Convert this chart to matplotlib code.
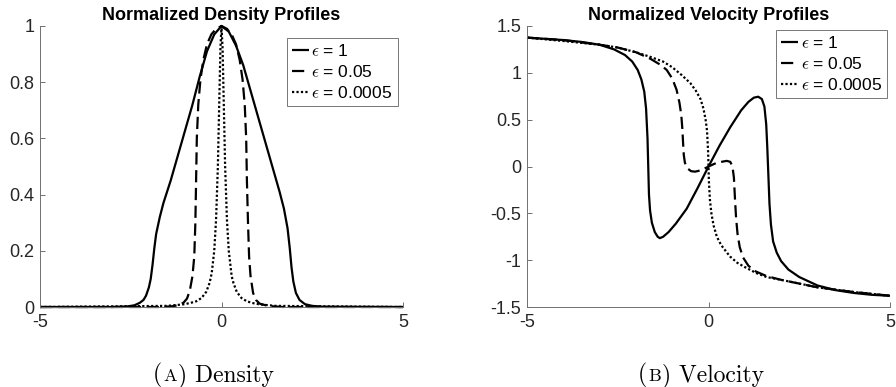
import matplotlib
matplotlib.use("Agg")
import matplotlib.pyplot as plt

plt.rcParams['axes.unicode_minus'] = False
plt.rcParams['mathtext.fontset'] = 'cm'
plt.rcParams['font.family'] = ['Liberation Sans', 'DejaVu Sans']

# ---------------- data ----------------
titles = ["Normalized Density Profiles", "Normalized Velocity Profiles"]
captions = [("(", "A", ") Density"), ("(", "B", ") Velocity")]
labels = [r"$\epsilon$ = 1", r"$\epsilon$ = 0.05", r"$\epsilon$ = 0.0005"]

x_ticks = [-5, 0, 5]
rho_ticks = [0, 0.2, 0.4, 0.6, 0.8, 1]
rho_tick_labels = ["0", "0.2", "0.4", "0.6", "0.8", "1"]
u_ticks = [-1.5, -1, -0.5, 0, 0.5, 1, 1.5]
u_tick_labels = ["-1.5", "-1", "-0.5", "0", "0.5", "1", "1.5"]

# density, eps = 1
rho1_x = [-5, -3, -2.6, -2.4, -2.25, -2.15, -2.08, -2.0, -1.95, -1.9, -1.85, -1.8, -1.7, -1.6,
          -1.4, -1.2, -1.0, -0.8, -0.6, -0.4, -0.2, 0, 0.2, 0.4, 0.6, 0.8, 1.0, 1.2, 1.4,
          1.6, 1.72, 1.82, 1.88, 1.93, 1.98, 2.05, 2.15, 2.3, 2.5, 2.8, 5]
rho1_y = [0, 0, 0.002, 0.006, 0.015, 0.025, 0.04, 0.07, 0.10, 0.15, 0.21, 0.26, 0.32, 0.37,
          0.45, 0.54, 0.63, 0.72, 0.82, 0.91, 0.97, 1.0, 0.98, 0.93, 0.86, 0.77, 0.68, 0.59,
          0.50, 0.41, 0.35, 0.28, 0.21, 0.14, 0.09, 0.05, 0.025, 0.01, 0.004, 0.001, 0]
# density, eps = 0.05
rho2_x = [-5, -1.7, -1.4, -1.2, -1.05, -0.95, -0.87, -0.8, -0.75, -0.72, -0.70, -0.68, -0.64,
          -0.58, -0.50, -0.40, -0.28, -0.15, 0, 0.15, 0.28, 0.40, 0.5, 0.58, 0.64, 0.68, 0.70,
          0.73, 0.76, 0.80, 0.87, 0.95, 1.05, 1.25, 1.45, 1.7, 5]
rho2_y = [0, 0, 0.002, 0.006, 0.015, 0.03, 0.06, 0.11, 0.18, 0.30, 0.45, 0.60, 0.72, 0.81,
          0.88, 0.935, 0.97, 0.99, 1.0, 0.99, 0.97, 0.935, 0.88, 0.81, 0.72, 0.60, 0.45, 0.30,
          0.18, 0.11, 0.05, 0.025, 0.012, 0.005, 0.002, 0, 0]
# density, eps = 0.0005
rho3_x = [-5, -1.5, -1.07, -0.87, -0.7, -0.55, -0.42, -0.33, -0.27, -0.2, -0.15, -0.1, -0.06,
          -0.03, 0, 0.03, 0.06, 0.1, 0.15, 0.2, 0.28, 0.33, 0.42, 0.55, 0.7, 0.92, 1.07, 1.5, 5]
rho3_y = [0, 0.004, 0.009, 0.014, 0.02, 0.032, 0.054, 0.085, 0.12, 0.20, 0.31, 0.50, 0.74,
          0.92, 1.0, 0.92, 0.74, 0.50, 0.31, 0.20, 0.11, 0.085, 0.054, 0.032, 0.02, 0.012,
          0.009, 0.004, 0]

# velocity, eps = 1
u1_x = [-5, -4, -3.5, -3, -2.6, -2.3, -2.1, -1.95, -1.85, -1.77, -1.72, -1.68, -1.66, -1.64,
        -1.61, -1.56, -1.48, -1.4, -1.34, -1.25, -1.1, -0.9, -0.6, -0.3, 0, 0.3, 0.6, 0.9,
        1.1, 1.25, 1.37, 1.47, 1.54, 1.59, 1.62, 1.65, 1.68, 1.72, 1.78, 1.88, 2.0, 2.2,
        2.5, 3.0, 3.5, 4.0, 4.5, 5]
u1_y = [1.376, 1.35, 1.33, 1.30, 1.25, 1.19, 1.12, 1.03, 0.93, 0.80, 0.62, 0.30, 0.0, -0.3,
        -0.47, -0.60, -0.70, -0.75, -0.765, -0.75, -0.70, -0.61, -0.45, -0.23, 0.0, 0.22,
        0.42, 0.60, 0.69, 0.735, 0.745, 0.72, 0.64, 0.45, 0.2, -0.1, -0.4, -0.62, -0.80,
        -0.92, -1.01, -1.10, -1.18, -1.27, -1.32, -1.35, -1.37, -1.38]
# velocity, eps = 0.05
u2_x = [-5, -4, -3, -2.5, -2, -1.6, -1.3, -1.15, -1.0, -0.88, -0.8, -0.75, -0.72, -0.70,
        -0.68, -0.65, -0.58, -0.48, -0.37, -0.2, 0, 0.2, 0.36, 0.5, 0.6, 0.66, 0.70, 0.73,
        0.76, 0.8, 0.86, 0.95, 1.1, 1.3, 1.6, 2.0, 2.5, 3, 4, 5]
u2_y = [1.376, 1.35, 1.30, 1.27, 1.22, 1.15, 1.08, 1.03, 0.94, 0.82, 0.68, 0.55, 0.40, 0.25,
        0.12, 0.04, -0.02, -0.05, -0.055, -0.04, 0.0, 0.035, 0.05, 0.06, 0.05, 0.0, -0.12,
        -0.35, -0.55, -0.72, -0.86, -0.97, -1.06, -1.12, -1.17, -1.21, -1.25, -1.29, -1.34,
        -1.38]
# velocity, eps = 0.0005
u3_x = [-5, -4, -3, -2.5, -2, -1.6, -1.25, -1.0, -0.75, -0.5, -0.35, -0.22, -0.14, -0.08,
        -0.04, -0.01, 0.01, 0.04, 0.08, 0.14, 0.23, 0.35, 0.59, 0.8, 1.03, 1.33, 1.6, 2.0,
        2.5, 3, 4, 5]
u3_y = [1.376, 1.34, 1.30, 1.27, 1.22, 1.17, 1.12, 1.06, 0.98, 0.89, 0.81, 0.72, 0.62, 0.50,
        0.38, 0.15, -0.15, -0.36, -0.50, -0.63, -0.75, -0.84, -0.96, -1.03, -1.08, -1.14,
        -1.18, -1.21, -1.25, -1.29, -1.34, -1.38]

# ---------------- styling ----------------
LW = 1.6
styles = [dict(linestyle='-'),
          dict(linestyle=(0, (5.5, 2.5))),
          dict(linestyle=(0, (1.0, 1.0)))]
axis_color = '#707070'
text_color = '#262626'

fig = plt.figure(figsize=(8.96, 3.87), dpi=100)
ax1 = fig.add_axes([40 / 896, 80 / 387, 363 / 896, 281 / 387])
ax2 = fig.add_axes([527 / 896, 80 / 387, 363 / 896, 281 / 387])

series = [
    (ax1, [(rho1_x, rho1_y), (rho2_x, rho2_y), (rho3_x, rho3_y)], (0, 1), rho_ticks,
     rho_tick_labels, (0.986, 0.957)),
    (ax2, [(u1_x, u1_y), (u2_x, u2_y), (u3_x, u3_y)], (-1.5, 1.5), u_ticks,
     u_tick_labels, (0.992, 0.985)),
]

for i, (ax, data, ylim, yt, ytl, anchor) in enumerate(series):
    for (xs, ys), st, lab in zip(data, styles, labels):
        ax.plot(xs, ys, color='black', linewidth=LW, label=lab, clip_on=False,
                solid_capstyle='butt', dash_capstyle='butt', **st)
    ax.set_xlim(-5, 5)
    ax.set_ylim(*ylim)
    ax.set_xticks(x_ticks)
    ax.set_xticklabels([str(v) for v in x_ticks])
    ax.set_yticks(yt)
    ax.set_yticklabels(ytl)
    for s in ['top', 'right']:
        ax.spines[s].set_visible(False)
    for s in ['left', 'bottom']:
        ax.spines[s].set_color(axis_color)
        ax.spines[s].set_linewidth(0.7)
    ax.tick_params(direction='in', length=3.5, width=0.7, color=axis_color,
                   labelsize=13, labelcolor=text_color)
    ax.tick_params(axis='x', pad=5)
    ax.tick_params(axis='y', pad=4)
    ax.set_title(titles[i], fontsize=13, fontweight='bold', pad=4.5, color='black')
    leg = ax.legend(loc='upper right', bbox_to_anchor=anchor, fontsize=12.5,
                    handlelength=0.95, handletextpad=0.15, labelspacing=0.28,
                    borderpad=0.3, borderaxespad=0, fancybox=False, frameon=True)
    leg.get_frame().set_edgecolor('#555555')
    leg.get_frame().set_linewidth(0.7)

# captions with small-caps letter
fig.canvas.draw()
renderer = fig.canvas.get_renderer()
cap_centers = [213.5 / 896, 701 / 896]
for (a, b, c), cx in zip(captions, cap_centers):
    sizes = [17, 13, 17]
    parts = [a, b, c]
    widths = []
    for p, sz in zip(parts, sizes):
        t = fig.text(0, 0, p, fontsize=sz, family='cmr10', color='black')
        bb = t.get_window_extent(renderer)
        widths.append(bb.width)
        t.remove()
    total = sum(widths) + 2
    xpx = cx * 896 - total / 2
    ypx = 387 - 381
    for p, sz, w in zip(parts, sizes, widths):
        fig.text(xpx / 896, ypx / 387, p, fontsize=sz, family='cmr10', color='black',
                 va='baseline', ha='left')
        xpx += w + 1

fig.savefig('out.png', dpi=100)
